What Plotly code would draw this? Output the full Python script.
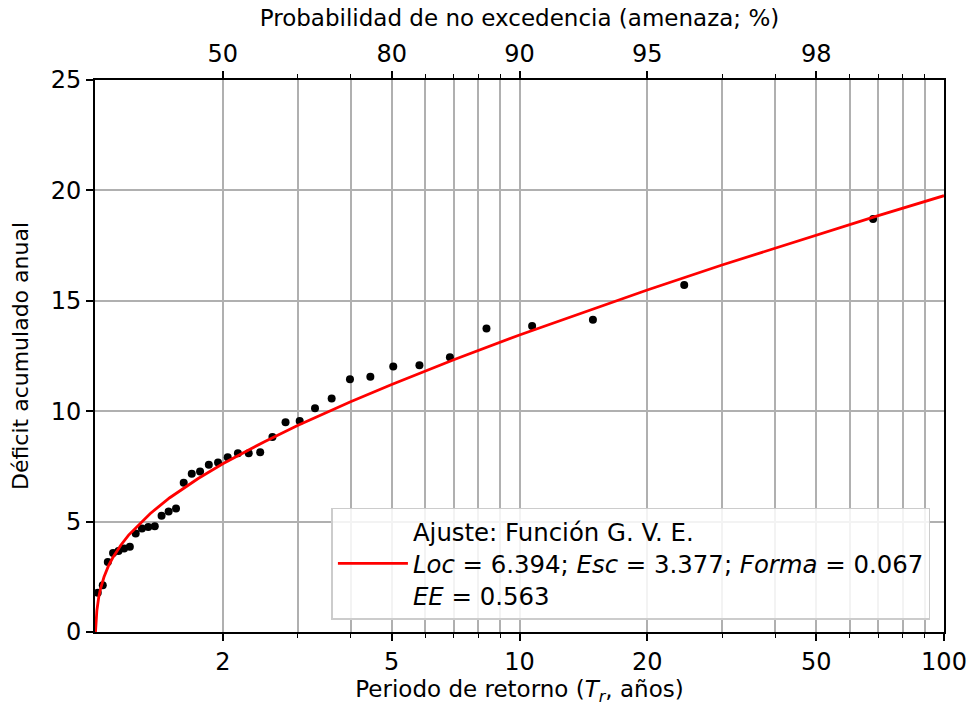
import plotly.graph_objects as go

# Observed points (return period in years, annual accumulated deficit)
obs_T = [1.015, 1.043, 1.072, 1.103, 1.136, 1.171, 1.208, 1.247, 1.290, 1.335,
         1.383, 1.435, 1.491, 1.552, 1.618, 1.690, 1.768, 1.854, 1.949, 2.054,
         2.171, 2.302, 2.450, 2.618, 2.811, 3.035, 3.298, 3.610, 3.987, 4.453,
         5.042, 5.811, 6.856, 8.360, 10.708, 14.891, 24.436, 68.071]
obs_y = [1.78, 2.12, 3.17, 3.58, 3.67, 3.78, 3.86, 4.46, 4.69, 4.76,
         4.79, 5.27, 5.46, 5.59, 6.76, 7.17, 7.27, 7.57, 7.68, 7.91,
         8.09, 8.10, 8.14, 8.83, 9.50, 9.56, 10.13, 10.57, 11.45, 11.56,
         12.02, 12.08, 12.44, 13.75, 13.86, 14.14, 15.72, 18.70]

# Fitted G.V.E. curve
fit_T = [1.0026, 1.003, 1.005, 1.01, 1.02, 1.03, 1.05, 1.075, 1.1, 1.15, 1.2,
         1.35, 1.5, 1.75, 2, 2.5, 3, 4, 5, 7, 10, 15, 20, 30, 50, 70, 100]
fit_y = [0.0, 0.09, 0.43, 0.96, 1.55, 1.94, 2.49, 2.98, 3.35, 3.93, 4.39,
         5.37, 6.08, 6.95, 7.62, 8.61, 9.35, 10.43, 11.21, 12.33, 13.45, 14.66,
         15.49, 16.62, 17.99, 18.86, 19.76]

# Axis ticks
bottom_major = [2, 5, 10, 20, 50, 100]
bottom_major_text = ["2", "5", "10", "20", "50", "100"]
minor_vals = [3, 4, 6, 7, 8, 9, 30, 40, 60, 70, 80, 90]
grid_vals = [2, 3, 4, 5, 6, 7, 8, 9, 10, 20, 30, 40, 50, 60, 70, 80, 90]
top_major = [2, 5, 10, 20, 50]
top_major_text = ["50", "80", "90", "95", "98"]
y_ticks = [0, 5, 10, 15, 20, 25]

legend_name = ("Ajuste: Función G. V. E.<br>"
               "<i>Loc</i> = 6.394; <i>Esc</i> = 3.377; <i>Forma</i> = 0.067<br>"
               "<i>EE</i> = 0.563")

FONT = "DejaVu Sans"
GRID = "#b0b0b0"

fig = go.Figure()
fig.add_trace(go.Scatter(x=obs_T, y=obs_y, mode="markers",
                         marker=dict(color="black", size=8),
                         showlegend=False))
fig.add_trace(go.Scatter(x=fit_T, y=fit_y, mode="lines",
                         line=dict(color="#ff0000", width=2.8),
                         name=legend_name))
# companion trace for the top (probability) axis
fig.add_trace(go.Scatter(x=[2, 50], y=[-10, -10], xaxis="x2", mode="markers",
                         marker=dict(size=1, opacity=0),
                         showlegend=False, hoverinfo="skip"))

fig.update_layout(
    width=972, height=710,
    margin=dict(l=95, r=28, t=80, b=78),
    paper_bgcolor="white", plot_bgcolor="white",
    font=dict(family=FONT, color="black", size=23),
    xaxis=dict(type="log", range=[0, 2], automargin=False,
               tickmode="array", tickvals=bottom_major, ticktext=bottom_major_text,
               ticks="outside", ticklen=7, tickwidth=1.6, tickcolor="black",
               showgrid=False, zeroline=False,
               showline=True, linecolor="black", linewidth=1.8,
               tickfont=dict(size=24),
               title=dict(text="Periodo de retorno (<i>T<sub>r</sub></i>, años)",
                          font=dict(size=23), standoff=6),
               minor=dict(tickmode="array", tickvals=grid_vals, ticks="outside",
                          ticklen=4, tickwidth=1.2, tickcolor="black",
                          showgrid=True, gridcolor=GRID, gridwidth=1.7)),
    xaxis2=dict(type="log", range=[0, 2], overlaying="x", side="top",
                anchor="y", automargin=False,
                tickmode="array", tickvals=top_major, ticktext=top_major_text,
                ticks="outside", ticklen=7, tickwidth=1.6, tickcolor="black",
                showgrid=False, zeroline=False,
                showline=True, linecolor="black", linewidth=1.8,
                tickfont=dict(size=24),
                title=dict(text="Probabilidad de no excedencia (amenaza; %)",
                           font=dict(size=23), standoff=6),
                minor=dict(tickmode="array", tickvals=minor_vals, ticks="outside",
                           ticklen=4, tickwidth=1.2, tickcolor="black",
                           showgrid=False)),
    yaxis=dict(range=[0, 25], tickmode="array", tickvals=y_ticks,
               automargin=False,
               ticks="outside", ticklen=7, tickwidth=1.6, tickcolor="black",
               showgrid=True, gridcolor=GRID, gridwidth=1.7, zeroline=False,
               showline=True, linecolor="black", linewidth=1.8, mirror=True,
               tickfont=dict(size=24),
               title=dict(text="Déficit acumulado anual", font=dict(size=22),
                          standoff=16)),
    legend=dict(x=0.984, y=0.022, xanchor="right", yanchor="bottom",
                bgcolor="rgba(255,255,255,0.85)", bordercolor="#cccccc",
                borderwidth=1.5, font=dict(size=24.4, family=FONT),
                itemwidth=70, valign="middle"),
    showlegend=True,
)

fig.write_html("out.html")
